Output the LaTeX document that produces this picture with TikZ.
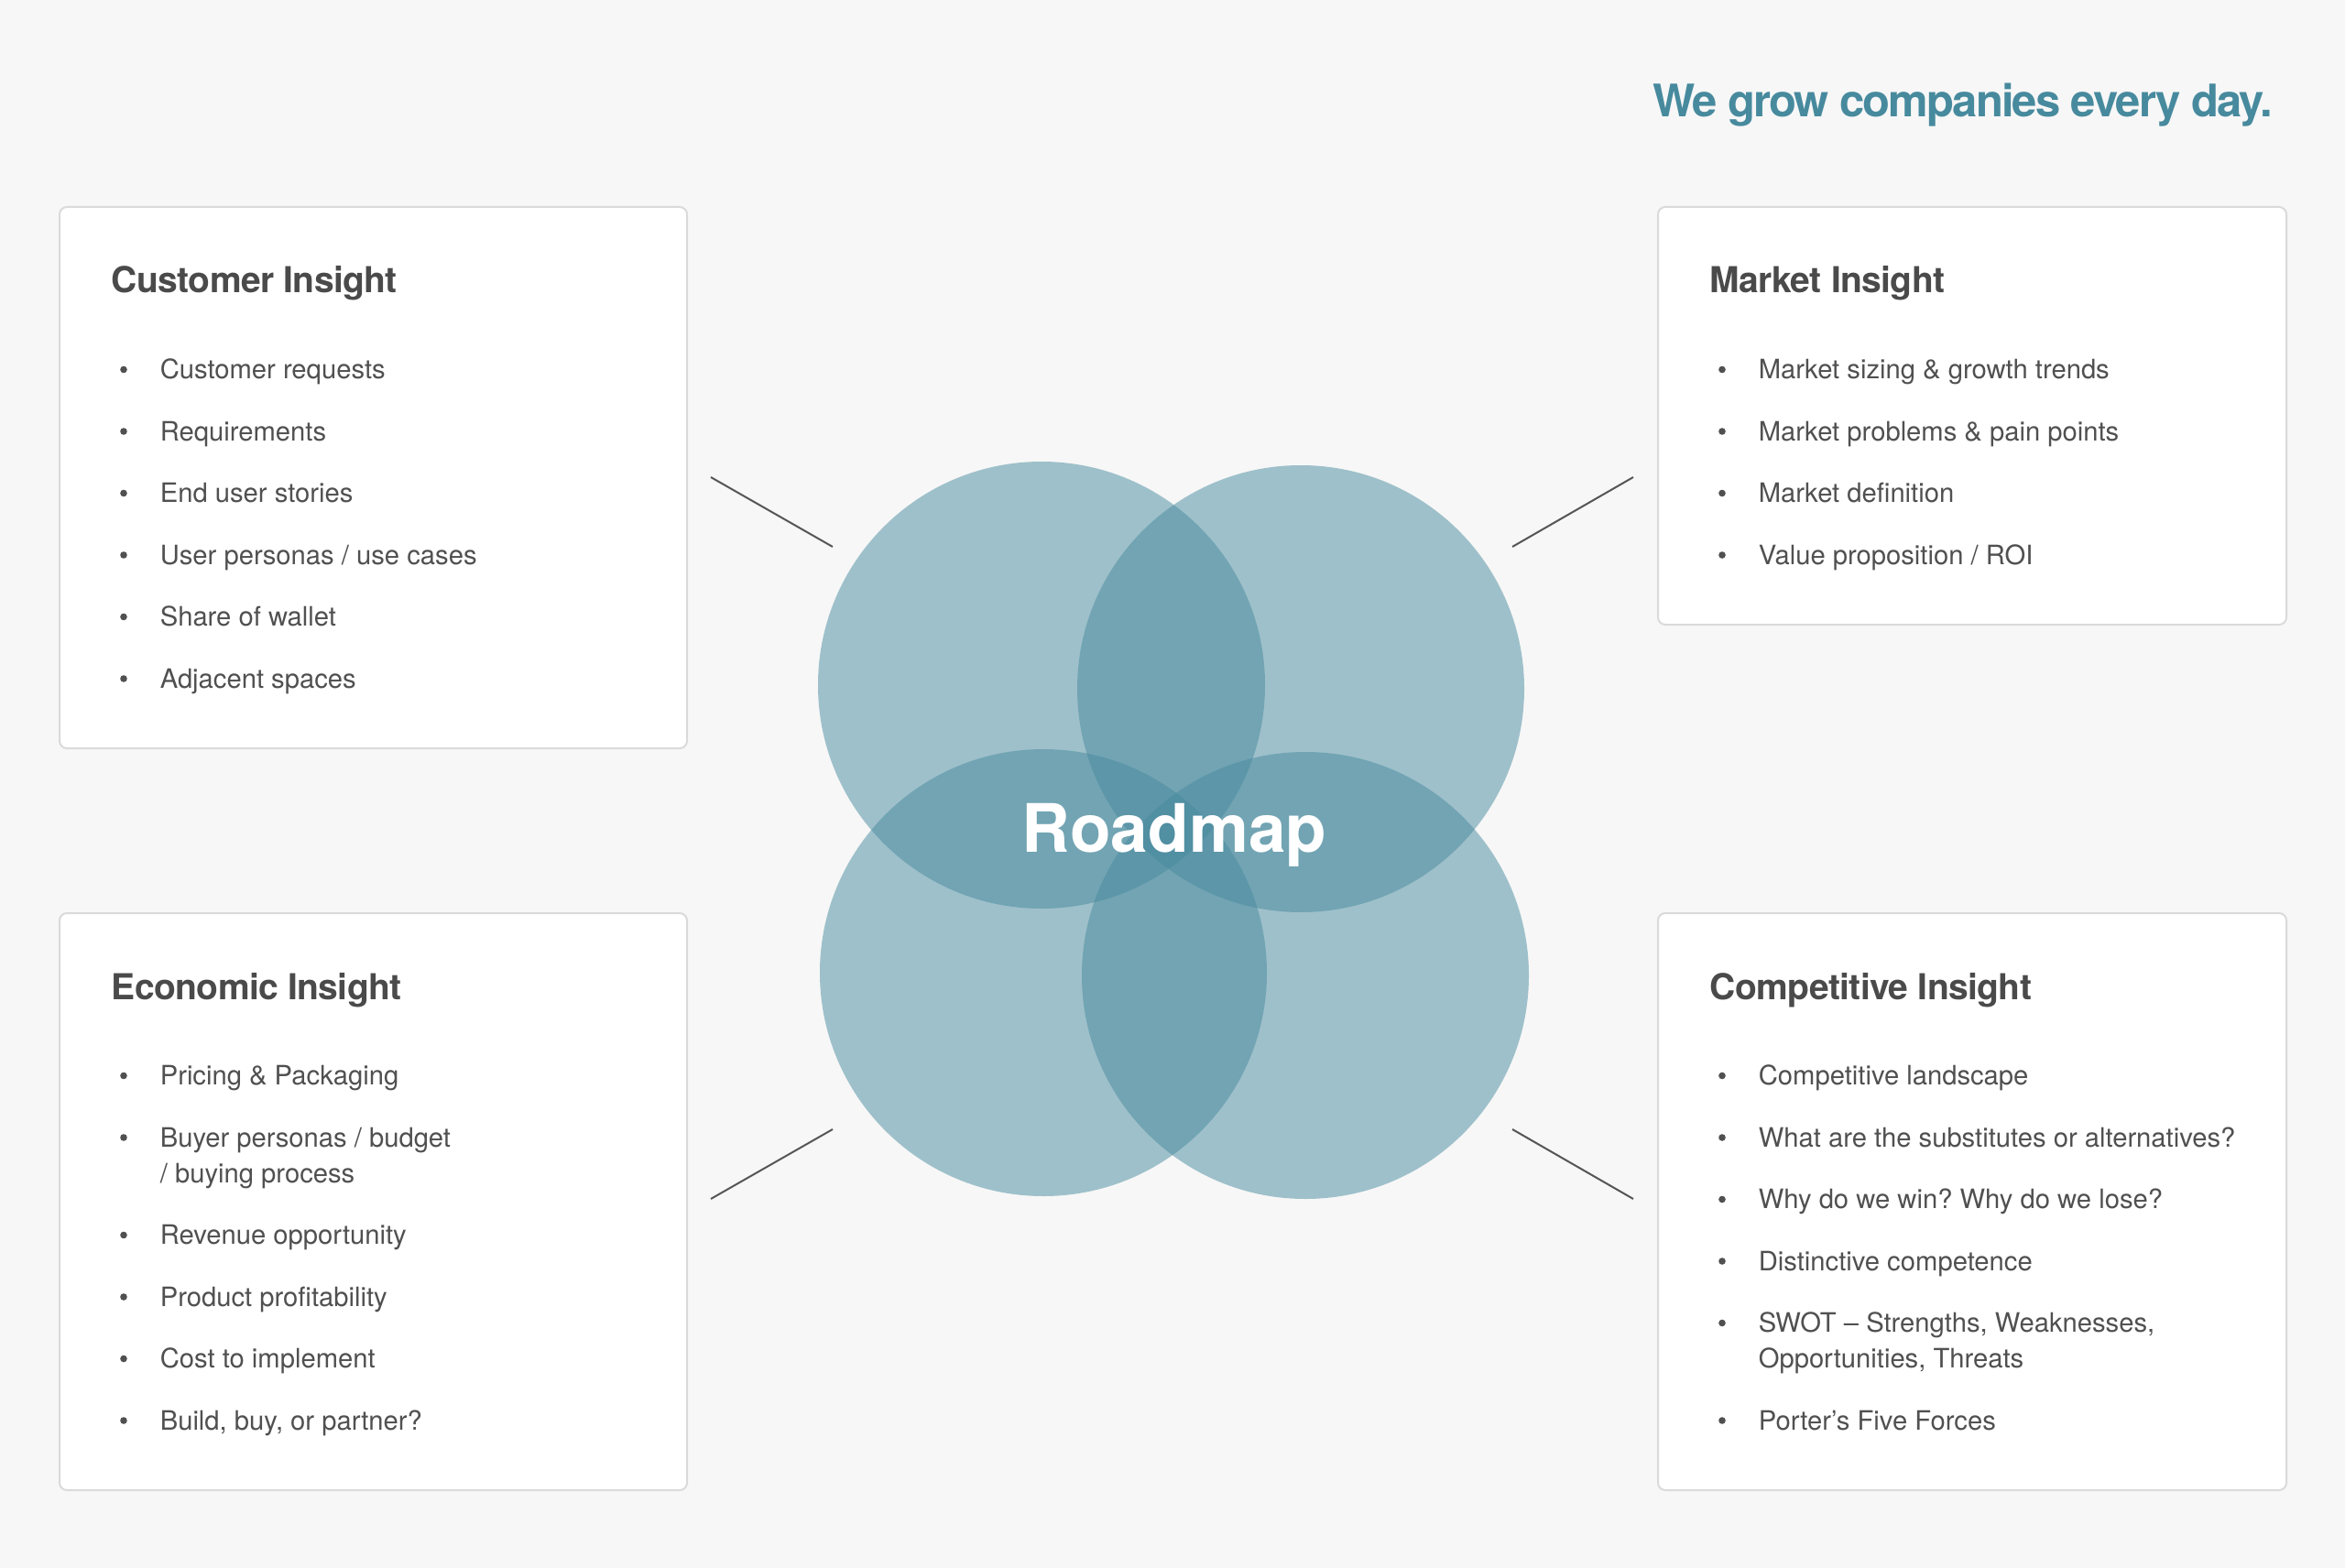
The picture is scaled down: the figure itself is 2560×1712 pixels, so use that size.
\documentclass[tikz,border=0pt]{standalone}
\usepackage{fontspec}
\setmainfont{TeX Gyre Heros}
\frenchspacing
\definecolor{bgc}{HTML}{F7F7F7}
\definecolor{rmteal}{RGB}{71,138,158}
\definecolor{headc}{HTML}{4A4A4A}
\definecolor{itemc}{HTML}{505050}
\definecolor{boxline}{HTML}{DADADA}
\definecolor{linec}{HTML}{555555}
\newcommand\putitem[4]{%
  \node[dot] (#1-b) at (#2-39,#3-10) {};
  \node[item] (#1) at (#2,#3) {#4};}
\newcommand\puttwo[4]{%
  \node[dot] (#1-b) at (#2-39,#3-10) {};
  \node[item] (#1) at (#2,#3+39) {#4};}
\begin{document}
\begin{tikzpicture}[x=0.25pt,y=-0.25pt,
  card/.style={draw=boxline, line width=0.5pt, fill=white, rounded corners=2pt, inner sep=0, anchor=north west},
  head/.style={anchor=base west, inner sep=0, text=headc, font=\fontsize{9.75}{11}\selectfont\bfseries\addfontfeatures{LetterSpace=-1.5}},
  item/.style={anchor=base west, inner sep=0, text=itemc, align=left, font=\fontsize{7.3}{9.75}\selectfont\frenchspacing},
  dot/.style={circle, fill=itemc, inner sep=0, minimum size=1.9pt},
  petal/.style={circle, fill=rmteal, fill opacity=0.5, draw=none, inner sep=0, minimum size=122pt},
  conn/.style={draw=linec, line width=0.5pt}]
\fill[bgc] (0,0) rectangle (2560,1712);
\useasboundingbox (0,0) rectangle (2560,1712);

% title
\node[anchor=base east, inner sep=0, text=rmteal, font=\fontsize{12.25}{14}\selectfont\bfseries\addfontfeatures{LetterSpace=-4}] (title) at (2482,128) {We grow companies every day.};

% cards
\node[card, minimum width=171.25pt, minimum height=147.75pt] (cust) at (64,225) {};
\node[card, minimum width=171.5pt, minimum height=114pt] (mark) at (1809,225) {};
\node[card, minimum width=171.25pt, minimum height=157.5pt] (econ) at (64,996) {};
\node[card, minimum width=171.5pt, minimum height=157.5pt] (comp) at (1809,996) {};

% headings
\node[head] (custh) at (121,320) {Customer Insight};
\node[head] (markh) at (1866,320) {Market Insight};
\node[head] (econh) at (121,1091) {Economic Insight};
\node[head] (comph) at (1866,1091) {Competitive Insight};

% customer items
\putitem{c1}{174}{413.5}{Customer requests}
\putitem{c2}{174}{481}{Requirements}
\putitem{c3}{174}{548.5}{End user stories}
\putitem{c4}{174}{616}{User personas / use cases}
\putitem{c5}{174}{683.5}{Share of wallet}
\putitem{c6}{174}{751}{Adjacent spaces}

% market items
\putitem{m1}{1919}{413.5}{Market sizing \& growth trends}
\putitem{m2}{1919}{481}{Market problems \& pain points}
\putitem{m3}{1919}{548.5}{Market definition}
\putitem{m4}{1919}{616}{Value proposition / ROI}

% economic items
\putitem{e1}{174}{1184.5}{Pricing \& Packaging}
\puttwo{e2}{174}{1252}{Buyer personas / budget\\/ buying process}
\putitem{e3}{174}{1358.5}{Revenue opportunity}
\putitem{e4}{174}{1426}{Product profitability}
\putitem{e5}{174}{1493.5}{Cost to implement}
\putitem{e6}{174}{1561}{Build, buy, or partner?}

% competitive items
\putitem{k1}{1919}{1184.5}{Competitive landscape}
\putitem{k2}{1919}{1252}{What are the substitutes or alternatives?}
\putitem{k3}{1919}{1319.5}{Why do we win? Why do we lose?}
\putitem{k4}{1919}{1387}{Distinctive competence}
\puttwo{k5}{1919}{1454.5}{SWOT – Strengths, Weaknesses,\\Opportunities, Threats}
\putitem{k6}{1919}{1561}{Porter’s Five Forces}

% circles
\node[petal] (ptl) at (1137,748) {};
\node[petal] (ptr) at (1420,752) {};
\node[petal] (pbl) at (1139,1062) {};
\node[petal] (pbr) at (1425,1065) {};
\node[anchor=base, inner sep=0, text=white, font=\fontsize{18.25}{20}\selectfont\bfseries] (road) at (1282,930) {Roadmap};

% connectors
\coordinate (a1) at (776,521); \coordinate (a2) at (909,597);
\coordinate (b1) at (1651,597); \coordinate (b2) at (1783,521);
\coordinate (d1) at (776,1309); \coordinate (d2) at (909,1233);
\coordinate (e1c) at (1651,1233); \coordinate (e2c) at (1783,1309);
\draw[conn] (a1) -- (a2);
\draw[conn] (b1) -- (b2);
\draw[conn] (d1) -- (d2);
\draw[conn] (e1c) -- (e2c);
\end{tikzpicture}
\end{document}
